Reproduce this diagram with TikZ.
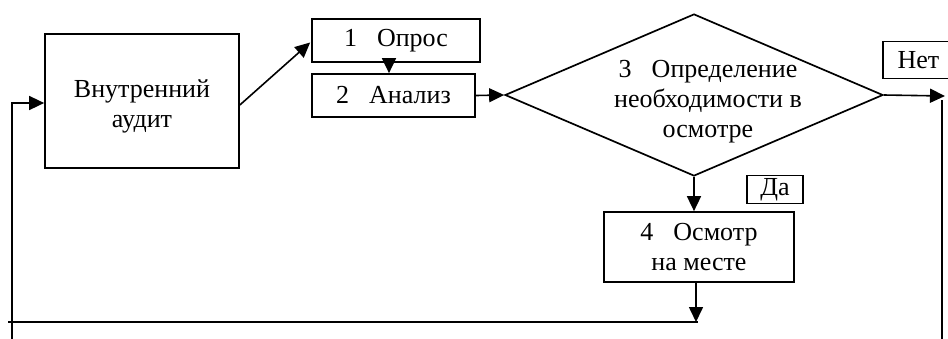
\documentclass[tikz,border=0pt]{standalone}
\usepackage{fontspec}
\setmainfont{Liberation Serif}
\usetikzlibrary{arrows.meta,shapes.geometric,calc}
\begin{document}
\begin{tikzpicture}[x=1pt,y=-1pt,
  every node/.style={font=\fontsize{26}{30}\selectfont},
  box/.style={draw, line width=1.7pt, inner sep=0pt, align=center},
  arr/.style={-{Triangle[length=15pt,width=14pt]}, line width=1.6pt},
  ln/.style={line width=1.6pt}]
\useasboundingbox (0,0) rectangle (948,338);
\clip (0,0) rectangle (948,338);
% nodes
\node[box, minimum width=194pt, minimum height=134pt] (audit) at (142,101) {};
\node[align=center, inner sep=0pt] (audittext) at (142,106) {Внутренний\\аудит};
\node[box, minimum width=168pt, minimum height=43pt] (op1) at (396,40.5) {1\hspace{20pt}Опрос};
\node[box, minimum width=163pt, minimum height=43pt] (op2) at (393.5,95.5) {2\hspace{20pt}Анализ};
\node[draw, diamond, line width=1.7pt, minimum width=378pt, minimum height=162pt, inner sep=0pt] (dia) at (694,95) {};
\node[align=center, inner sep=0pt] (dtext) at (708,102) {3\hspace{20pt}Определение\\необходимости в\\осмотре};
\node[box, minimum width=71pt, minimum height=37pt] (net) at (918.5,60) {Нет};
\node[box, minimum width=56pt, minimum height=28pt] (da) at (775,189.5) {Да};
\node[box, minimum width=190pt, minimum height=70pt] (insp) at (699,247) {4\hspace{20pt}Осмотр\\на месте};
% free ends
\coordinate (nettip) at (945,96);
\coordinate (rtop) at (942,100);
\coordinate (rbot) at (942,345);
\coordinate (bottip) at (696,322);
\coordinate (bl) at (8,322);
\coordinate (br) at (698,322);
\coordinate (lbot) at (12,345);
\coordinate (ltop) at (12,103);
% connectors
\draw[arr] ($(audit.east)+(0,4)$) -- ($(op1.west)+(-1,2)$);
\draw[arr] ($(op1.south)+(-7,0)$) -- ($(op2.north)+(-4.5,0)$);
\draw[arr] (op2.east) -- (dia.west);
\draw[arr] (dia.east) -- (nettip);
\draw[ln] (rtop) -- (rbot);
\draw[arr] (dia.south) -- (dia.south |- insp.north);
\draw[arr] ($(insp.south)+(-3,0)$) -- (bottip);
\draw[ln] (bl) -- (br);
\draw[arr] (lbot) -- (ltop) -- (ltop -| audit.west);
\end{tikzpicture}
\end{document}
